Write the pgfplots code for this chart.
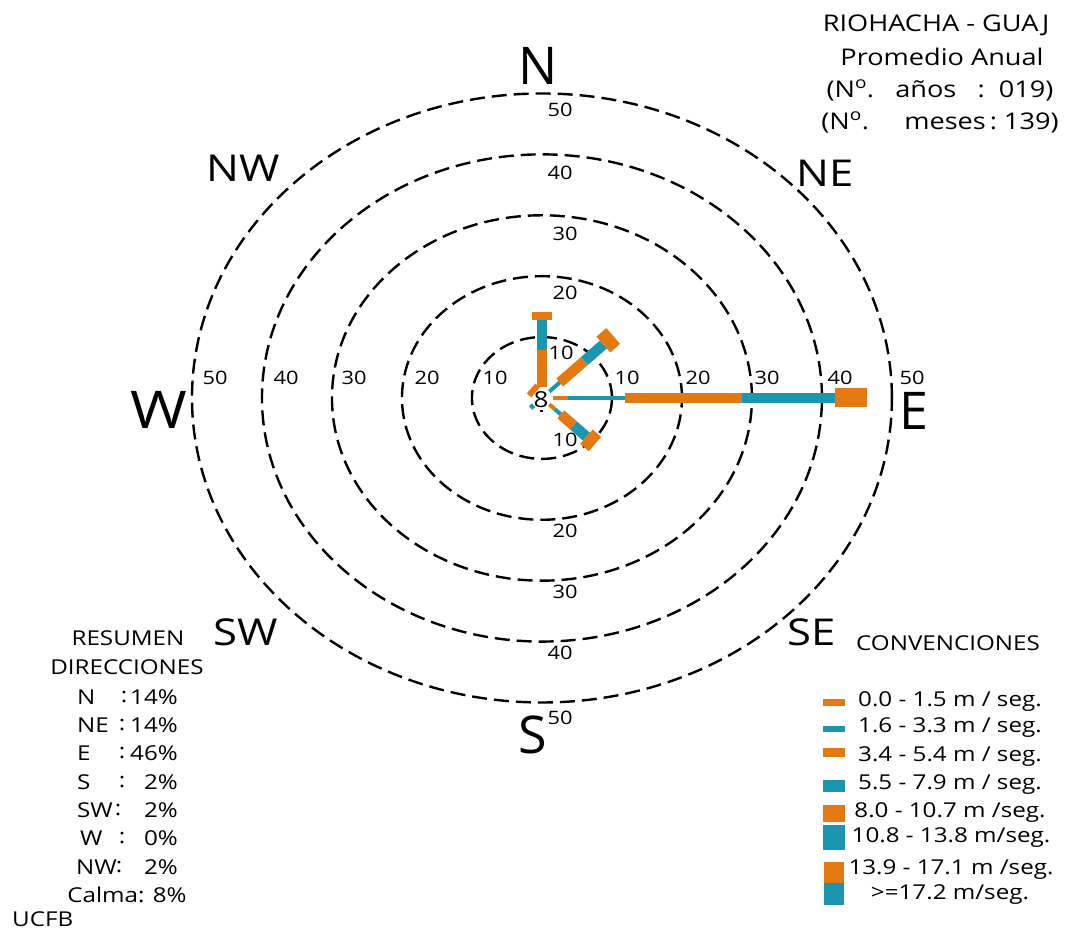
\documentclass[border=0pt]{standalone}
\usepackage{pgfplots}
\pgfplotsset{compat=1.18}
\usepackage{fontspec}
\setmainfont{Open Sans}
\newfontfamily\wide[FakeStretch=1.18]{Open Sans}
\definecolor{orng}{RGB}{227,121,16}
\definecolor{tl}{RGB}{26,150,176}
\newcommand\fs[1]{\fontsize{#1}{#1}\selectfont}

\begin{document}
\begin{tikzpicture}
\useasboundingbox (0,0) rectangle (1070pt,930pt);
\begin{axis}[
    at={(0pt,0pt)}, anchor=south west,
    scale only axis, width=1070pt, height=930pt,
    xmin=-77.43, xmax=75.43, ymin=-87.36, ymax=65.35,
    hide axis, clip=false,
    thin/.style={no markers, line width=4pt},
    med/.style={no markers, line width=10.5pt},
    wide/.style={no markers, line width=19pt},
]
% anillos
\draw[dash pattern=on 15pt off 7pt, line width=2.4pt] (axis cs:0,0) ellipse [x radius=10, y radius=10];
\draw[dash pattern=on 15pt off 7pt, line width=2.4pt] (axis cs:0,0) ellipse [x radius=20, y radius=20];
\draw[dash pattern=on 15pt off 7pt, line width=2.4pt] (axis cs:0,0) ellipse [x radius=30, y radius=30];
\draw[dash pattern=on 15pt off 7pt, line width=2.4pt] (axis cs:0,0) ellipse [x radius=40, y radius=40];
\draw[dash pattern=on 15pt off 7pt, line width=2.4pt] (axis cs:0,0) ellipse [x radius=50, y radius=50];

% E
\addplot[thin, orng] coordinates {(1.6,0) (3.7,0)};
\addplot[thin, tl]   coordinates {(3.7,0) (11.9,0)};
\addplot[med, orng]  coordinates {(11.9,0) (28.6,0)};
\addplot[med, tl]    coordinates {(28.6,0) (41.9,0)};
\addplot[wide, orng] coordinates {(41.9,0) (46.4,0)};
% N
\addplot[med, orng]  coordinates {(0,1.8) (0,7.9)};
\addplot[med, tl]    coordinates {(0,7.9) (0,12.8)};
\addplot[wide, orng, line width=20pt] coordinates {(0,12.8) (0,14.1)};
% NE
\addplot[thin, tl]   coordinates {(1.06,1.06) (2.55,2.55)};
\addplot[med, orng]  coordinates {(2.55,2.55) (6.08,6.08)};
\addplot[med, tl]    coordinates {(6.08,6.08) (8.77,8.77)};
\addplot[wide, orng, line width=21pt] coordinates {(8.77,8.77) (10.18,10.18)};
% SE
\addplot[thin, orng] coordinates {(1.06,-1.06) (1.84,-1.84)};
\addplot[thin, tl]   coordinates {(1.84,-1.84) (2.69,-2.69)};
\addplot[med, orng]  coordinates {(2.69,-2.69) (4.53,-4.53)};
\addplot[med, tl]    coordinates {(4.53,-4.53) (6.36,-6.36)};
\addplot[wide, orng] coordinates {(6.36,-6.36) (7.57,-7.57)};
% NW, SW, S
\addplot[no markers, orng, line width=13pt] coordinates {(-0.92,0.92) (-1.56,1.56)};
\addplot[no markers, tl, line width=5pt] coordinates {(-1.20,-1.20) (-1.63,-1.63)};
\addplot[no markers, black, line width=3pt] coordinates {(0,-1.9) (0,-2.25)};
\end{axis}

\begin{scope}[x=1pt, y=-1pt, shift={(0pt,930pt)}]
% etiquetas de los anillos
\begin{scope}[every node/.style={font=\wide\fs{18.5}, inner sep=0pt}]
\node at (215,378) {50}; \node at (286,378) {40}; \node at (354,378) {30};
\node at (427,378) {20}; \node at (495,378) {10};
\node at (627,378) {10}; \node at (698,378) {20}; \node at (767,378) {30};
\node at (840,378) {40}; \node at (912,378) {50};
\node at (560,110) {50}; \node at (560,173) {40}; \node at (565,234) {30};
\node at (565,293) {20}; \node at (561,353) {10};
\node at (565,440) {10}; \node at (565,531) {20}; \node at (565,592) {30};
\node at (560,653) {40}; \node at (560,718) {50};
\node[font=\wide\fs{22}] at (541,400) {8};
\end{scope}
% direcciones
\begin{scope}[every node/.style={font=\fs{52}, inner sep=0pt}]
\node at (538,66) {N}; \node at (533,735) {S};
\node[font=\wide\fs{52}] at (159,410) {W}; \node at (914,411) {E};
\end{scope}
\begin{scope}[every node/.style={font=\wide\fs{37}, inner sep=0pt}]
\node at (243,168) {NW}; \node at (825,173) {NE};
\node at (246,632) {SW}; \node at (812,632) {SE};
\end{scope}
% titulo
\begin{scope}[every node/.style={font=\wide\fs{23}, inner sep=0pt}]
\node at (936,25) {RIOHACHA - GUAJ};
\node at (942,57) {Promedio Anual};
\node at (940,90) {(N\textsuperscript{o}.\ \ \ años\ \ \ :\ \ 019)};
\node at (940,122) {(N\textsuperscript{o}.\ \ \ \ \ meses\,:\ 139)};
\end{scope}
% resumen
\begin{scope}[every node/.style={font=\wide\fs{20.5}, inner sep=0pt}]
\node at (128,638) {RESUMEN};
\node at (127,667) {DIRECCIONES};
\node[anchor=west] at (77,697) {N};  \node at (124,697) {:}; \node[anchor=east] at (178,697) {14\%};
\node[anchor=west] at (77,725) {NE}; \node at (122,725) {:}; \node[anchor=east] at (178,725) {14\%};
\node[anchor=west] at (77,753) {E};  \node at (122,753) {:}; \node[anchor=east] at (178,753) {46\%};
\node[anchor=west] at (77,782) {S};  \node at (122,782) {:}; \node[anchor=east] at (178,782) {2\%};
\node[anchor=west] at (77,810) {SW}; \node at (118,810) {:}; \node[anchor=east] at (178,810) {2\%};
\node[anchor=west] at (80,838) {W};  \node at (122,838) {:}; \node[anchor=east] at (178,838) {0\%};
\node[anchor=west] at (76,867) {NW}; \node at (119,867) {:}; \node[anchor=east] at (178,867) {2\%};
\node at (127,895) {Calma: 8\%};
\node[anchor=west] at (12,919) {UCFB};
\end{scope}
% convenciones
\begin{scope}[every node/.style={font=\wide\fs{20.5}, inner sep=0pt}]
\node at (948,643) {CONVENCIONES};
\node at (950,702) {0.0 - 1.5 m / seg.};
\node at (950,728) {1.6 - 3.3 m / seg.};
\node at (950,757) {3.4 - 5.4 m / seg.};
\node at (950,785) {5.5 - 7.9 m / seg.};
\node at (950,813) {8.0 - 10.7 m /seg.};
\node at (951,838) {10.8 - 13.8 m/seg.};
\node at (951,870) {13.9 - 17.1 m /seg.};
\node at (950,895) {>=17.2 m/seg.};
\end{scope}
\fill[orng] (823,699) rectangle (845,706);
\fill[tl]   (823,726) rectangle (845,732);
\fill[orng] (823,748) rectangle (845,757);
\fill[tl]   (823,780) rectangle (845,792);
\fill[orng] (823,805) rectangle (845,822);
\fill[tl]   (823,825) rectangle (845,850);
\fill[orng] (824,862) rectangle (844,883);
\fill[tl]   (824,883) rectangle (844,905);
\end{scope}
\end{tikzpicture}
\end{document}
